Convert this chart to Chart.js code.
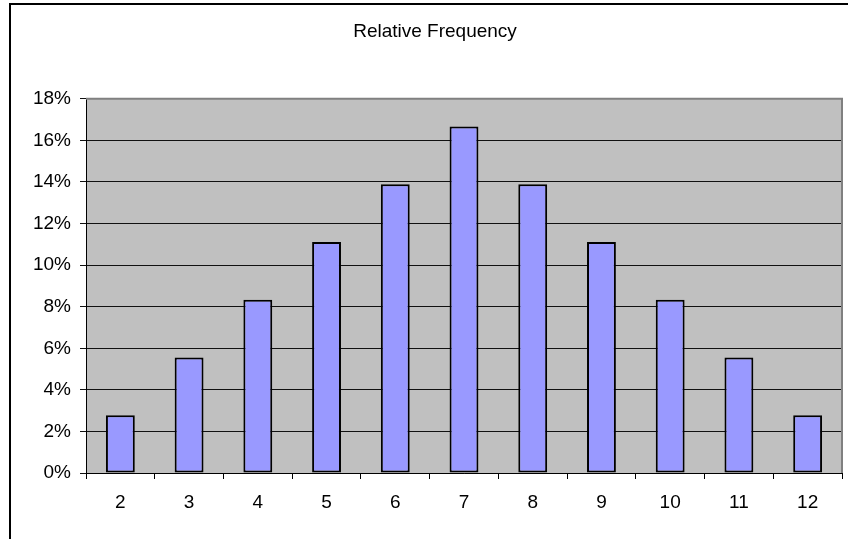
<!DOCTYPE html>
<html>
<head>
<meta charset="utf-8">
<script src="https://cdn.jsdelivr.net/npm/chart.js@4"></script>
<style>
  body { margin: 0; background: #fff; overflow: hidden; }
</style>
</head>
<body>
<canvas id="chart" width="848" height="539"></canvas>
<script>
// sum of two dice, share of outcomes in percent
var sums = ['2', '3', '4', '5', '6', '7', '8', '9', '10', '11', '12'];
var freq = [2.78, 5.56, 8.33, 11.11, 13.89, 16.67, 13.89, 11.11, 8.33, 5.56, 2.78];
var yTicks = [0, 2, 4, 6, 8, 10, 12, 14, 16, 18];

var font = { family: 'Arial, "Liberation Sans", sans-serif', size: 19 };

// gray plot background, gray frame, and the outer chart frame
var frame = {
    id: 'frame',
    beforeDraw: function (chart) {
        var c = chart.ctx, a = chart.chartArea;
        c.save();
        c.fillStyle = '#fff';
        c.fillRect(0, 0, chart.width, chart.height);
        c.fillStyle = '#c0c0c0';
        c.fillRect(a.left, a.top, a.right - a.left, a.bottom - a.top);
        c.strokeStyle = '#000';
        c.lineWidth = 2;
        c.beginPath();
        c.moveTo(10, chart.height + 2);
        c.lineTo(10, 4);
        c.lineTo(chart.width + 2, 4);
        c.stroke();
        c.restore();
    },
    beforeDatasetsDraw: function (chart) {
        var c = chart.ctx, a = chart.chartArea;
        c.save();
        c.strokeStyle = '#808080';
        c.lineWidth = 2;
        c.beginPath();
        c.moveTo(a.left, a.top);
        c.lineTo(a.right, a.top);
        c.lineTo(a.right, a.bottom);
        c.stroke();
        c.restore();
    }
};

var ctx = document.getElementById('chart').getContext('2d');
var chart = new Chart(ctx, {
    type: 'bar',
    data: {
        labels: sums,
        datasets: [{
            data: freq,
            backgroundColor: '#9999ff',
            borderColor: '#000',
            borderWidth: 2,
            borderSkipped: false,
            barPercentage: 0.42,
            categoryPercentage: 1
        }]
    },
    plugins: [frame],
    options: {
        responsive: false,
        animation: false,
        layout: { padding: { left: 28, right: 6, top: 0, bottom: 0 } },
        plugins: {
            legend: { display: false },
            tooltip: { enabled: false },
            title: {
                display: true,
                text: 'Relative Frequency',
                color: '#000',
                font: { family: font.family, size: 19, weight: 'normal' },
                padding: { top: 20, bottom: 56 }
            }
        },
        scales: {
            x: {
                afterFit: function (s) { s.height = 66; },
                grid: {
                    offset: true,
                    drawOnChartArea: false,
                    drawTicks: true,
                    tickLength: 6,
                    color: '#000'
                },
                border: { color: '#000', width: 1 },
                ticks: { color: '#000', font: font, padding: 12, maxRotation: 0 }
            },
            y: {
                min: 0,
                max: 18,
                afterFit: function (s) { s.width = 58; },
                afterBuildTicks: function (s) {
                    s.ticks = yTicks.map(function (v) { return { value: v }; });
                },
                grid: {
                    color: '#111',
                    drawTicks: true,
                    tickLength: 6
                },
                border: { color: '#000', width: 1 },
                ticks: {
                    color: '#000',
                    font: font,
                    padding: 9,
                    callback: function (v) { return v + '%'; }
                }
            }
        }
    }
});
</script>
</body>
</html>
